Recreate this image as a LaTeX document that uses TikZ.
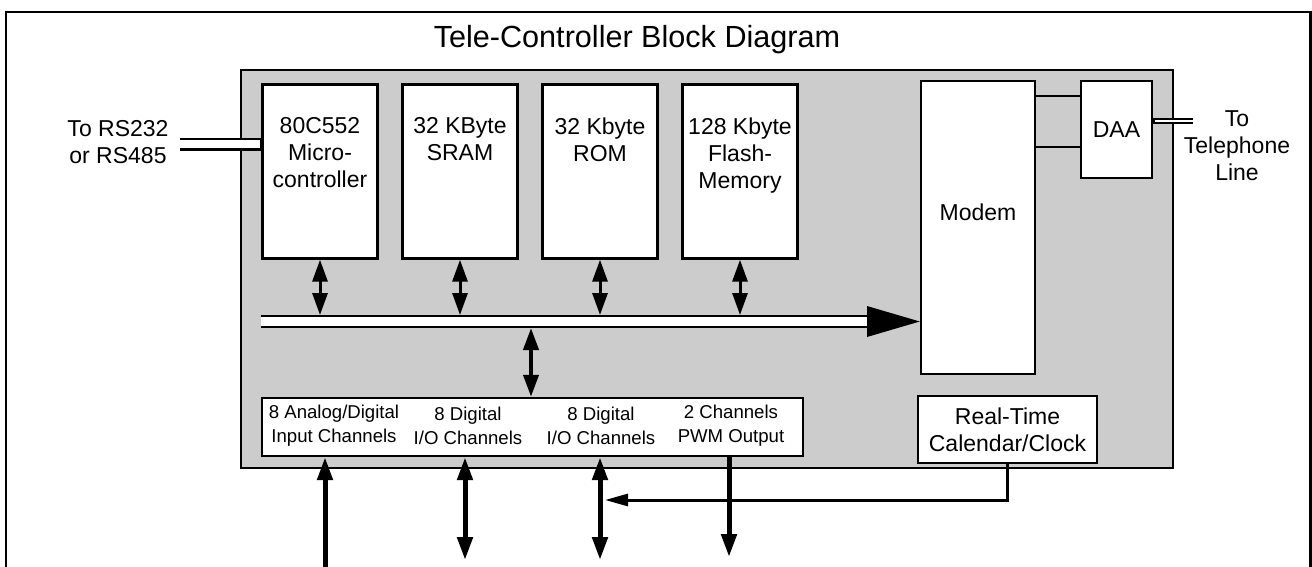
\documentclass[tikz,border=0pt]{standalone}
\usepackage{fontspec}
\setmainfont{Liberation Sans}
\usetikzlibrary{arrows.meta,calc}
\begin{document}
\begin{tikzpicture}[x=0.5pt,y=-0.5pt,
  blk/.style={draw,fill=white,line width=1.2pt,inner sep=0,rectangle},
  txt/.style={align=center,inner sep=0,font=\fontsize{11.5}{13.5}\selectfont},
  smalltxt/.style={align=center,inner sep=0,font=\fontsize{9.3}{12}\selectfont},
  midarrow/.style={line width=1.5pt,{Triangle[length=11pt,width=7.5pt]}-{Triangle[length=11pt,width=7.5pt]}},
  iobus/.style={line width=2pt,{Triangle[length=11pt,width=7.5pt]}-{Triangle[length=11pt,width=7.5pt]}},
  bigdbl/.style={line width=2.5pt,{Triangle[length=11.5pt,width=7.5pt]}-{Triangle[length=11.5pt,width=7.5pt]}},
  bigone/.style={line width=2.5pt,-{Triangle[length=11.5pt,width=7.5pt]}},
  wire/.style={line width=1pt}
]
\useasboundingbox (0,0) rectangle (1312,567);
% outer frame
\draw[line width=1.1pt] (6,567) -- (6,12.3) -- (1310.5,12.3) -- (1310.5,567);
% title
\node[font=\fontsize{15.3}{18}\selectfont,inner sep=0] (title) at (637,40) {Tele-Controller Block Diagram};
% panel
\node[draw,fill=black!20,line width=1pt,minimum width=466pt,minimum height=199pt,inner sep=0] (panel) at (707,269) {};

% upper boxes
\node[blk,minimum width=57.5pt,minimum height=87pt] (mc) at (320,171.5) {};
\node[blk,minimum width=57.5pt,minimum height=87pt] (sram) at (460,171.5) {};
\node[blk,minimum width=57.5pt,minimum height=87pt] (rom) at (600,171.5) {};
\node[blk,minimum width=57.5pt,minimum height=87pt] (flash) at (740,171.5) {};
\node[txt,anchor=north] (mct) at ($(mc.north)+(0,34)$) {80C552\\Micro-\\controller};
\node[txt,anchor=north] (sramt) at ($(sram.north)+(0,34)$) {32 KByte\\SRAM};
\node[txt,anchor=north] (romt) at ($(rom.north)+(0,34)$) {32 Kbyte\\ROM};
\node[txt,anchor=north] (flasht) at ($(flash.north)+(0,34)$) {128 Kbyte\\Flash-\\Memory};

% modem and DAA
\node[blk,minimum width=57pt,minimum height=146.5pt] (modem) at (978,227.5) {};
\node[txt] (modemt) at (978,212) {Modem};
\node[blk,txt,minimum width=35.5pt,minimum height=48.5pt] (daa) at (1116.5,129.5) {DAA};
\coordinate (m1) at (0,96);
\coordinate (m2) at (0,147);
\draw[wire] (modem.east |- m1) -- (daa.west |- m1);
\draw[wire] (modem.east |- m2) -- (daa.west |- m2);

% telephone line
\coordinate (tel) at (1193,121);
\draw[line width=3.3pt] (daa.east |- tel) -- (tel);
\draw[white,line width=0.9pt,shorten <=0.7pt] (daa.east |- tel) -- (tel);
\node[txt] (telt) at (1237,146) {To\\Telephone\\Line};

% RS232
\coordinate (rs) at (180,144.5);
\draw[line width=6.2pt] (rs) -- (mc.west |- rs);
\draw[white,line width=4pt,shorten >=0.7pt] (rs) -- (mc.west |- rs);
\node[txt] (rst) at (118,142) {To RS232\\or RS485};

% bus
\coordinate (busy) at (0,321.5);
\coordinate (busend) at (867,321.5);
\coordinate (bustop) at (0,315);
\coordinate (busbot) at (0,328);
\draw[line width=6.5pt] (mc.south west |- busy) -- (busend);
\draw[white,line width=4.2pt] (mc.south west |- busy) -- (busend);
\fill (modem.west |- busy) -- ($(busend)+(0,-15.5)$) -- ($(busend)+(0,15.5)$) -- cycle;

\draw[midarrow] (mc.south) -- (mc.south |- bustop);
\draw[midarrow] (sram.south) -- (sram.south |- bustop);
\draw[midarrow] (rom.south) -- (rom.south |- bustop);
\draw[midarrow] (flash.south) -- (flash.south |- bustop);

% IO box
\node[blk,minimum width=270.5pt,minimum height=29pt] (io) at (532.5,427) {};
\node[smalltxt] (io1) at (334,426) {8 Analog/Digital\\Input Channels};
\node[smalltxt] (io2) at (468,426) {8 Digital\\I/O Channels};
\node[smalltxt] (io3) at (601,426) {8 Digital\\I/O Channels};
\node[smalltxt] (io4) at (731,426) {2 Channels\\PWM Output};
\coordinate (iox) at (531,0);
\draw[iobus] (iox |- busbot) -- (iox |- io.north);

% RTC
\node[blk,txt,minimum width=89.5pt,minimum height=33.5pt] (rtc) at (1007.5,429.5) {Real-Time\\Calendar/Clock};

% bottom arrows
\coordinate (b1) at (325,567);
\coordinate (b2) at (465,560);
\coordinate (b3) at (600,560);
\coordinate (b4) at (729,557);
\draw[bigone] (b1) -- (b1 |- io.south);
\draw[bigdbl] (b2 |- io.south) -- (b2);
\draw[bigdbl] (b3 |- io.south) -- (b3);
\draw[bigone] (b4 |- io.south) -- (b4);
\coordinate (r1) at (0,500);
\draw[line width=1.5pt,-{Triangle[length=11.5pt,width=6pt]}] (rtc.south) -- (rtc.south |- r1) -- ($(b3 |- r1)+(5,0)$);
\end{tikzpicture}
\end{document}
